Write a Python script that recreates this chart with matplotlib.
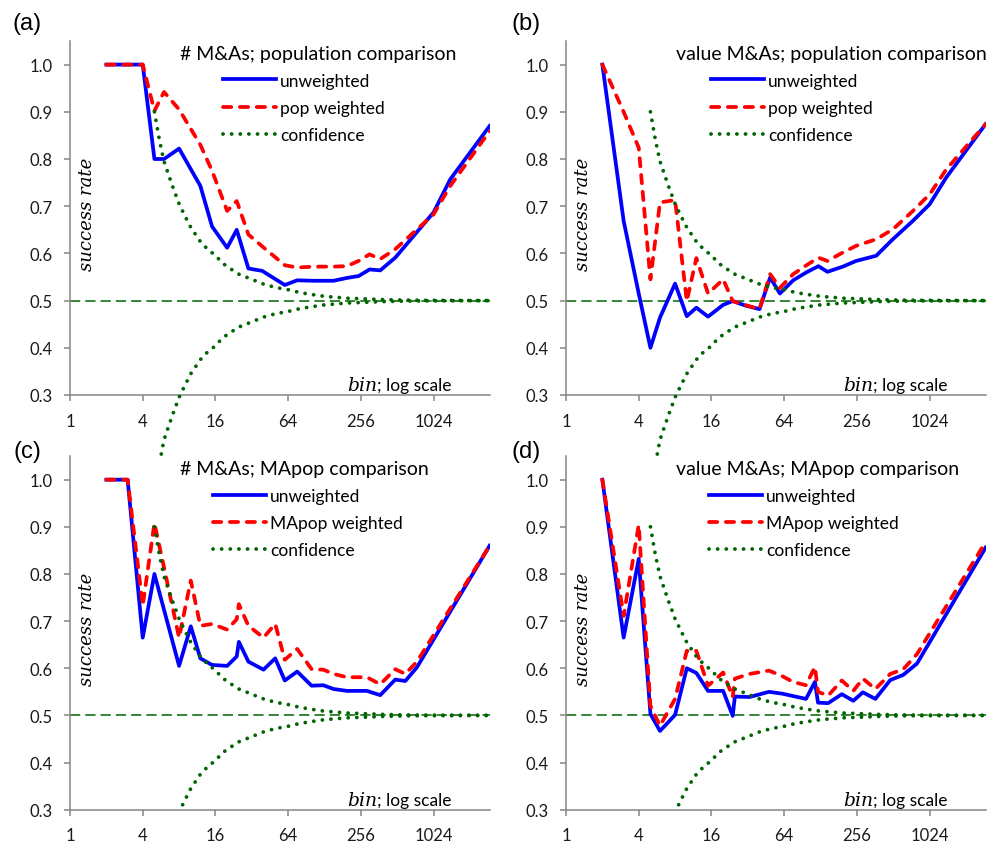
import numpy as np
import matplotlib
matplotlib.use('Agg')
import matplotlib.pyplot as plt
from matplotlib.ticker import NullLocator

plt.rcParams['font.family'] = ['Lato', 'DejaVu Sans']

# ---- data ----
conf_n = [5, 5.5, 6, 7, 8, 9, 10, 12, 14, 16, 18, 20, 25, 32, 40, 50, 64, 80, 100, 128, 160, 200, 256, 400, 600, 1000, 2980]
conf_hi = [0.900, 0.840, 0.795, 0.745, 0.705, 0.678, 0.655, 0.625, 0.607, 0.596, 0.581, 0.572, 0.556, 0.545, 0.535,
           0.528, 0.523, 0.517, 0.513, 0.509, 0.507, 0.505, 0.504, 0.502, 0.501, 0.5005, 0.500]
conf_lo_n = [5.7, 6, 7, 8, 9, 10, 12, 14, 16, 18, 20, 25, 32, 40, 50, 64, 80, 100, 128, 160, 200, 256, 400, 600, 1000, 2980]
conf_lo = [0.175, 0.205, 0.255, 0.295, 0.322, 0.345, 0.375, 0.393, 0.404, 0.419, 0.428, 0.444, 0.455, 0.465, 0.472,
           0.477, 0.483, 0.487, 0.491, 0.493, 0.495, 0.496, 0.498, 0.499, 0.4995, 0.500]

a_bin = [2, 3, 4, 5, 6, 8, 12, 15, 20, 24, 30, 39, 60, 76, 104, 152, 196, 245, 302, 370, 493, 1024, 1407, 2980]
a_unw = [1.0, 1.0, 1.0, 0.80, 0.80, 0.822, 0.743, 0.657, 0.612, 0.650, 0.568, 0.563, 0.533, 0.543, 0.542, 0.542,
         0.548, 0.552, 0.566, 0.564, 0.591, 0.687, 0.757, 0.870]
a_wtd = [1.0, 1.0, 1.0, 0.902, 0.942, 0.905, 0.830, 0.775, 0.690, 0.711, 0.640, 0.615, 0.575, 0.570, 0.572, 0.572,
         0.573, 0.584, 0.598, 0.588, 0.609, 0.683, 0.743, 0.859]

b_bin = [2, 3, 4, 5, 6, 8, 10, 12, 15, 20, 24, 31, 40, 49, 59, 76, 98, 123, 146, 196, 252, 370, 508, 745, 1024, 1407, 2980]
b_unw = [1.0, 0.669, 0.515, 0.400, 0.464, 0.536, 0.467, 0.485, 0.466, 0.491, 0.499, 0.489, 0.482, 0.549, 0.515,
         0.543, 0.560, 0.573, 0.561, 0.572, 0.584, 0.595, 0.630, 0.669, 0.704, 0.761, 0.874]
b_wtd = [1.0, 0.900, 0.824, 0.545, 0.708, 0.713, 0.499, 0.590, 0.515, 0.545, 0.499, 0.490, 0.482, 0.556, 0.527,
         0.556, 0.575, 0.591, 0.584, 0.602, 0.616, 0.630, 0.651, 0.690, 0.725, 0.778, 0.874]

c_bin = [2, 3, 4, 5, 8, 10, 12, 15, 20, 24, 25, 30, 40, 50, 60, 76, 100, 125, 152, 196, 287, 370, 493, 597, 745, 2980]
c_unw = [1.0, 1.0, 0.665, 0.80, 0.605, 0.689, 0.621, 0.607, 0.605, 0.625, 0.656, 0.614, 0.597, 0.621, 0.574, 0.593,
         0.563, 0.564, 0.556, 0.552, 0.552, 0.543, 0.576, 0.573, 0.602, 0.860]
c_wtd = [1.0, 1.0, 0.733, 0.908, 0.665, 0.786, 0.690, 0.694, 0.682, 0.704, 0.736, 0.690, 0.665, 0.694, 0.618, 0.641,
         0.598, 0.597, 0.588, 0.581, 0.581, 0.566, 0.598, 0.588, 0.614, 0.860]

d_bin = [2, 3, 4, 5, 6, 8, 10, 12, 15, 20, 24, 25, 33, 48, 62, 76, 97, 115, 122, 148, 192, 239, 287, 364, 484, 620, 805, 2980]
d_unw = [1.0, 0.665, 0.832, 0.503, 0.467, 0.501, 0.600, 0.590, 0.552, 0.552, 0.499, 0.540, 0.539, 0.550, 0.546,
         0.541, 0.535, 0.571, 0.527, 0.526, 0.545, 0.531, 0.549, 0.535, 0.575, 0.586, 0.610, 0.856]
d_wtd = [1.0, 0.711, 0.904, 0.520, 0.478, 0.535, 0.637, 0.637, 0.563, 0.591, 0.539, 0.578, 0.588, 0.595, 0.583,
         0.571, 0.564, 0.603, 0.550, 0.542, 0.574, 0.552, 0.578, 0.556, 0.588, 0.598, 0.630, 0.868]

xticks = [1, 4, 16, 64, 256, 1024]
yticks = [0.3, 0.4, 0.5, 0.6, 0.7, 0.8, 0.9, 1.0]

titles = ['# M&As; population comparison', 'value M&As; population comparison',
          '# M&As; MApop comparison', 'value M&As; MApop comparison']
weighted_labels = ['pop weighted', 'pop weighted', 'MApop weighted', 'MApop weighted']
letters = ['(a)', '(b)', '(c)', '(d)']
series = [(a_bin, a_unw, a_wtd), (b_bin, b_unw, b_wtd), (c_bin, c_unw, c_wtd), (d_bin, d_unw, d_wtd)]

# ---- layout (pixels) ----
W, H = 992, 845
# left, bottom-y, width, height of each plot area; legend x offset; letter position
boxes = [(70, 396, 420, 354), (566, 396, 420, 354), (70, 810.7, 420, 353.6), (566, 810.7, 420, 353.6)]
leg_dx = [153, 145, 143, 143]
letter_xy = [(27, 24), (526, 24), (27, 452), (526, 452)]

green = '#006400'
gray = '#868686'
dots = (0.01, 2.25)

fig = plt.figure(figsize=(W / 100, H / 100), dpi=100)

for i in range(4):
    x0, yb, w, h = boxes[i]
    ax = fig.add_axes([x0 / W, 1 - yb / H, w / W, h / H])
    bins, unw, wtd = series[i]
    top = i < 2

    ax.axhline(0.5, color=green, lw=1.1, dashes=(6.7, 3.3), zorder=1)
    ax.plot(bins, unw, color='#0000ff', lw=2.7, zorder=3, label='unweighted')
    ax.plot(bins, wtd, color='#ff0000', lw=2.7, dashes=(2.2, 2.3), dash_capstyle='round',
            zorder=4, label=weighted_labels[i])
    ax.plot(conf_n, conf_hi, color=green, lw=2.75, dashes=dots, dash_capstyle='round',
            zorder=5, label='confidence')
    ax.plot(conf_lo_n, conf_lo, color=green, lw=2.75, dashes=dots, dash_capstyle='round',
            zorder=5, clip_on=not top)

    ax.set_xscale('log', base=2)
    ax.set_xlim(1, 3000)
    ax.set_ylim(0.3, 1.05)
    ax.set_xticks(xticks)
    ax.set_xticklabels([str(t) for t in xticks])
    ax.xaxis.set_minor_locator(NullLocator())
    ax.set_yticks(yticks)
    ax.set_yticklabels(['%.1f' % t for t in yticks])
    ax.tick_params(direction='out', length=4.2, width=1.1, color=gray, labelsize=12,
                   labelcolor='#1a1a1a')
    ax.tick_params(axis='y', pad=8.2)
    ax.tick_params(axis='x', pad=8.6)
    for s in ['top', 'right']:
        ax.spines[s].set_visible(False)
    for s in ['left', 'bottom']:
        ax.spines[s].set_color(gray)
        ax.spines[s].set_linewidth(1.1)
    ax.patch.set_alpha(0)

    ax.text(110 / w, 1 - 12.5 / h, titles[i], transform=ax.transAxes, ha='left', va='center', fontsize=14)
    ax.legend(loc='upper left', bbox_to_anchor=(leg_dx[i] / w, 1 - 31.5 / h), frameon=False,
              borderpad=0, borderaxespad=0, handlelength=3.05, handletextpad=0.25,
              labelspacing=0.65, fontsize=12.5)

    ax.text(17 / w, 0.512, 'success rate', transform=ax.transAxes, rotation=90, ha='center', va='center',
            family='DejaVu Serif', style='italic', fontsize=13)
    t = ax.text(0.908, 0.0145, '; log scale', transform=ax.transAxes, ha='right', va='baseline', fontsize=12.5)
    ax.annotate('bin', xy=(0, 0.0145), xycoords=(t, 'axes fraction'), ha='right', va='baseline',
                family='DejaVu Serif', style='italic', fontsize=13.5)

    lx, ly = letter_xy[i]
    fig.text(lx / W, 1 - ly / H, letters[i], ha='center', va='center', family='Liberation Sans', fontsize=17)

fig.savefig('out.png', dpi=100)
